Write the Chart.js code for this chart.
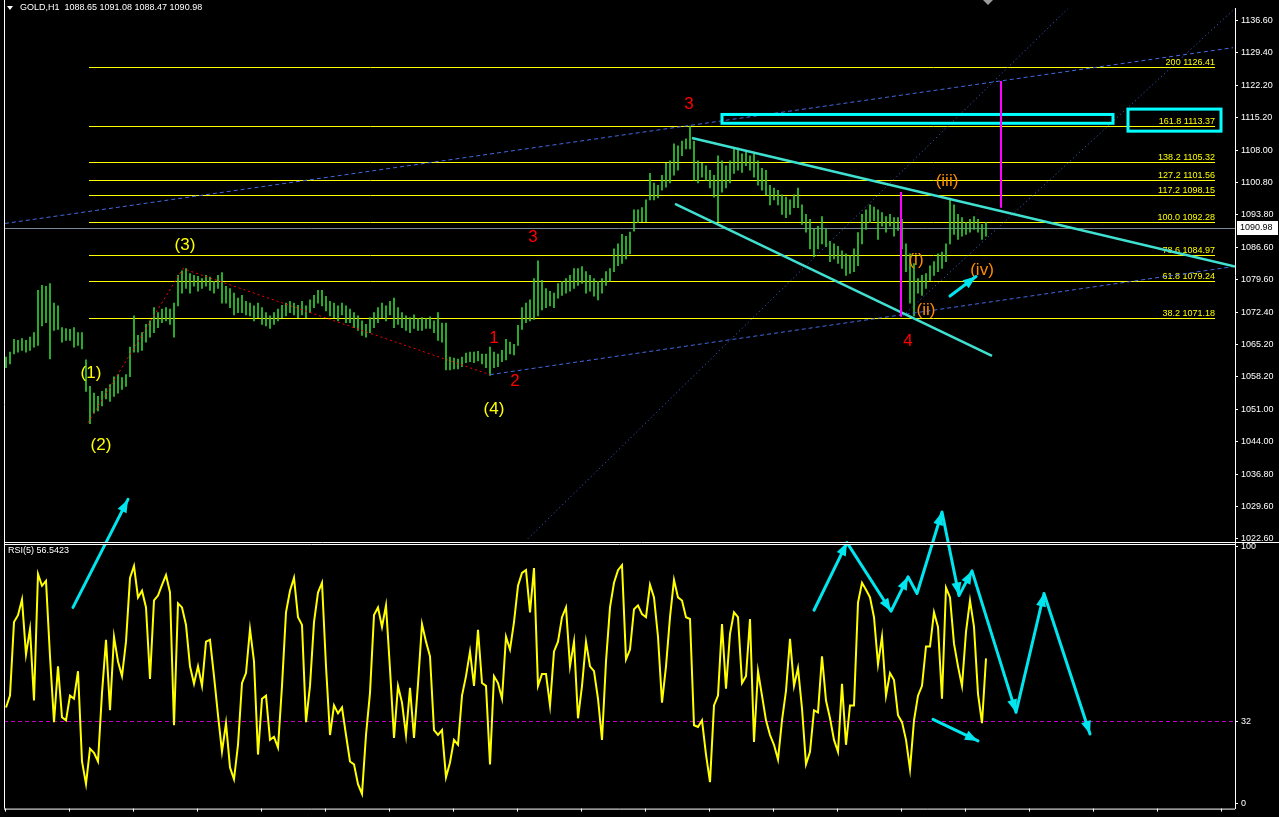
<!DOCTYPE html>
<html>
<head>
<meta charset="utf-8">
<script src="https://cdn.jsdelivr.net/npm/chart.js@4.4.0/dist/chart.umd.min.js"></script>
<style>
  html, body { margin: 0; padding: 0; background: #000; overflow: hidden; }
  #wrap { position: absolute; left: 0; top: 0; width: 1279px; height: 817px; }
</style>
</head>
<body>
<div id="wrap"><canvas id="c" width="1279" height="817"></canvas></div>
<script>
// ---- GOLD H1 price bars (high / low per bar) ----
const barHigh = [
  1062.5,1063.6,1066.4,1066.2,1066.6,1066.2,1066.9,1067.9,1077.2,1078.3,
  1078.1,1078.7,1074.4,1073.8,1069.0,1068.8,1068.6,1069.0,1067.9,1067.9,
  1061.9,1056.1,1054.6,1053.9,1055.0,1055.6,1056.5,1058.2,1058.7,1058.0,
  1058.7,1064.7,1071.6,1067.3,1067.9,1069.7,1070.5,1073.4,1072.3,1073.1,
  1073.4,1073.1,1074.4,1080.5,1081.5,1082.0,1080.9,1080.5,1080.3,1079.8,
  1080.5,1080.1,1079.2,1080.5,1081.1,1078.1,1077.6,1076.6,1075.5,1076.1,
  1074.8,1074.4,1073.8,1074.4,1073.4,1072.3,1071.6,1072.3,1073.1,1073.9,
  1074.4,1074.8,1074.4,1073.9,1074.8,1073.8,1075.1,1076.1,1077.2,1077.2,
  1075.9,1074.8,1074.4,1073.8,1074.4,1073.8,1073.1,1072.3,1071.6,1070.5,
  1069.7,1071.2,1072.3,1073.4,1074.4,1073.8,1074.8,1075.5,1073.4,1072.3,
  1071.6,1071.2,1071.8,1071.0,1071.2,1071.0,1071.4,1070.5,1072.3,1070.0,
  1070.0,1062.5,1062.3,1062.1,1062.5,1063.4,1063.6,1063.6,1063.8,1063.2,
  1063.2,1064.7,1063.6,1063.2,1064.0,1066.4,1065.8,1065.3,1069.5,1073.4,
  1074.4,1075.1,1079.8,1083.7,1079.4,1077.6,1077.0,1076.6,1078.7,1079.2,
  1079.8,1080.5,1082.0,1082.0,1082.4,1081.3,1080.5,1079.8,1079.2,1079.8,
  1081.3,1082.0,1086.3,1087.4,1089.5,1089.1,1090.0,1094.9,1094.9,1095.4,
  1097.1,1102.9,1100.8,1100.3,1102.5,1105.1,1105.7,1109.4,1109.0,1110.0,
  1110.5,1113.3,1110.0,1105.7,1105.1,1104.6,1103.6,1102.5,1106.8,1105.7,
  1104.6,1105.7,1108.3,1108.5,1107.2,1107.9,1106.8,1107.2,1105.7,1104.0,
  1103.6,1100.3,1099.7,1099.2,1098.2,1097.7,1097.1,1098.2,1099.7,1096.0,
  1093.9,1092.8,1090.6,1091.3,1093.4,1090.6,1088.0,1087.4,1086.9,1085.9,
  1085.2,1084.8,1086.3,1089.9,1093.9,1094.9,1096.0,1095.5,1094.9,1094.3,
  1093.4,1093.9,1093.2,1093.2,1092.8,1087.4,1085.2,1083.1,1079.8,1080.5,
  1080.9,1082.6,1083.5,1085.2,1085.6,1087.4,1097.5,1096.0,1093.9,1093.2,
  1092.1,1092.8,1093.4,1092.8,1091.7,1092.1
];
const barLow = [
  1060.2,1061.0,1063.2,1063.6,1064.0,1063.6,1064.0,1064.7,1065.1,1069.4,
  1070.1,1062.1,1068.4,1068.6,1065.8,1066.2,1066.2,1064.7,1065.1,1064.3,
  1055.0,1047.9,1050.2,1050.7,1051.8,1053.3,1052.8,1053.9,1054.6,1055.4,
  1056.1,1058.2,1063.6,1063.6,1064.0,1065.8,1066.9,1067.9,1069.0,1070.1,
  1070.5,1069.7,1066.9,1073.8,1076.6,1077.6,1076.6,1078.1,1077.0,1077.6,
  1078.1,1077.2,1076.6,1077.6,1074.4,1074.4,1073.4,1071.8,1072.3,1072.3,
  1071.8,1071.6,1070.5,1071.2,1069.7,1069.4,1068.8,1069.7,1070.5,1071.2,
  1071.6,1072.3,1071.8,1071.2,1071.8,1071.2,1072.3,1073.4,1074.4,1073.8,
  1072.7,1071.6,1071.2,1070.5,1071.8,1070.1,1070.1,1069.0,1068.4,1067.3,
  1066.9,1067.9,1069.0,1070.1,1071.2,1070.5,1071.8,1069.0,1069.7,1069.0,
  1068.4,1067.9,1068.8,1068.4,1068.4,1068.8,1068.8,1067.9,1066.2,1065.8,
  1059.7,1059.7,1059.9,1059.9,1060.4,1061.3,1061.5,1061.3,1061.7,1061.0,
  1060.2,1058.5,1060.2,1060.4,1061.5,1061.9,1063.2,1063.0,1065.1,1068.6,
  1070.1,1070.5,1070.8,1071.6,1072.9,1073.4,1073.8,1073.4,1075.5,1076.1,
  1076.6,1077.0,1077.6,1078.3,1078.7,1076.6,1077.0,1075.9,1075.1,1076.6,
  1078.3,1079.2,1081.3,1082.6,1083.1,1084.1,1085.2,1090.2,1092.1,1092.3,
  1092.3,1097.1,1097.1,1097.5,1099.2,1099.9,1100.8,1102.5,1103.6,1106.8,
  1108.3,1108.3,1101.4,1100.8,1102.1,1101.4,1099.7,1097.7,1092.3,1098.8,
  1099.7,1100.8,1102.9,1103.6,1103.1,1104.6,1103.6,1102.1,1100.3,1099.2,
  1098.2,1096.0,1097.1,1096.0,1093.9,1093.2,1093.9,1095.4,1095.4,1091.7,
  1090.0,1086.3,1084.6,1086.3,1087.4,1086.8,1083.5,1084.1,1083.1,1082.0,
  1080.5,1080.9,1081.3,1082.6,1087.4,1090.6,1092.1,1092.5,1088.4,1091.3,
  1090.0,1091.3,1089.1,1090.4,1086.3,1081.3,1074.4,1071.6,1076.6,1076.1,
  1077.6,1079.4,1080.5,1081.3,1082.0,1083.5,1087.4,1089.5,1088.4,1089.1,
  1089.5,1090.0,1090.6,1090.0,1088.4,1089.1
];
// ---- RSI(5), one value per bar ----
const rsiValues = [
  37.4,42.0,70.6,73.3,79.4,58.0,67.9,40.1,89.3,84.7,
  86.6,57.3,31.7,53.4,33.6,32.4,42.0,40.8,51.5,16.4,
  7.6,21.4,19.8,16.4,43.1,63.7,36.3,64.9,55.3,49.6,
  63.0,87.8,92.4,80.2,82.8,76.3,48.5,79.0,80.9,85.1,
  88.9,82.1,30.5,77.9,76.3,69.5,53.4,46.6,53.4,45.8,
  63.0,63.7,49.6,34.4,20.2,31.3,14.1,9.5,22.9,46.9,
  50.8,67.9,55.3,19.1,40.8,42.0,24.8,26.0,21.8,45.8,
  74.4,82.8,87.8,72.5,69.5,31.7,45.8,70.6,82.1,85.9,
  53.4,26.7,38.2,35.1,37.4,26.7,16.4,15.3,7.6,3.8,
  26.7,43.1,73.3,76.3,68.7,77.1,52.3,25.6,45.8,39.3,
  26.7,45.0,25.6,46.6,69.8,63.0,57.3,28.6,26.7,28.6,
  10.3,16.0,24.8,22.9,42.0,49.6,59.2,45.8,67.6,46.9,
  45.8,15.3,49.6,46.9,40.8,64.9,59.9,70.6,84.7,89.7,
  90.8,74.4,91.6,45.8,50.4,50.4,38.2,59.2,63.0,72.5,
  76.3,53.4,63.0,33.2,45.8,63.0,53.4,51.5,40.8,24.8,
  55.3,76.3,85.9,90.8,92.7,56.1,59.9,75.6,77.1,73.7,
  72.5,85.1,80.2,64.9,39.3,53.4,72.5,87.0,80.2,79.0,
  72.5,71.8,30.5,29.8,32.4,19.1,8.4,38.2,42.0,69.8,
  44.7,66.0,74.4,72.5,46.9,49.6,71.8,24.0,51.5,42.0,
  32.4,26.7,22.9,17.2,32.4,43.9,64.1,45.8,52.7,37.0,
  15.3,20.2,36.3,35.5,57.3,40.1,33.2,24.8,20.2,46.6,
  22.9,38.2,38.2,78.2,85.9,83.2,80.2,72.5,54.2,64.9,
  42.0,50.8,48.1,34.4,31.7,24.8,13.4,32.4,42.0,45.8,
  61.1,61.1,74.4,68.7,40.8,84.0,80.2,62.2,53.4,45.8,
  66.8,79.0,68.7,42.7,31.3,56.5
];

// ---- axis ticks ----
const PRICE_TICKS = [1022.60,1029.60,1036.80,1044.00,1051.00,1058.20,1065.20,1072.40,1079.60,
                     1086.60,1093.80,1100.80,1108.00,1115.20,1122.20,1129.40,1136.60];
const RSI_TICKS = [0, 32, 100];
const RSI_LEVEL = 32;
const LAST_PRICE = 1090.98;
const HEADER_TEXT = 'GOLD,H1  1088.65 1091.08 1088.47 1090.98';
const RSI_TITLE = 'RSI(5) 56.5423';

// ---- Fibonacci expansion levels ----
const FIB_LEVELS = ['200', '161.8', '138.2', '127.2', '117.2', '100.0', '78.6', '61.8', '38.2'];
const FIB_PRICES = [1126.41, 1113.37, 1105.32, 1101.56, 1098.15, 1092.28, 1084.97, 1079.24, 1071.18];
const FIB_SPAN = [20.75, 302.25];           // bar index range

// ---- drawn objects: [bar index, price] ----
const TREND_DASHED = [
  [[-0.25, 1091.91], [306.75, 1130.55]],
  [[121, 1058.66], [306.75, 1082.41]]
];
const TREND_DOTTED = [
  [[130.5, 1022.61], [265.5, 1139.19]],
  [[224.25, 1071.62], [307.25, 1139.19]]
];
const WAVE_PATH = [[20.5, 1048.09], [44.25, 1081.98], [121, 1058.66]];
const CHANNEL_LINES = [
  [[171.5, 1110.69], [307.25, 1082.41]],
  [[167.25, 1096.23], [246.5, 1062.77]]
];
const TARGET_BOXES = [
  [179, 1115.87, 276.75, 1113.93],
  [280.5, 1117.05, 303.75, 1112.20]
];
const MAGENTA_BARS = [
  [223.75, 1098.82, 1071.40],
  [248.75, 1123.21, 1095.37]
];
const PRICE_ARROWS = [[[236, 1075.94], [242.5, 1080.25]]];

// wave counts: [text, bar index, price]
const WAVES_PRIMARY = [['(1)', 21.25, 1058.88], ['(2)', 23.75, 1043.12], ['(3)', 44.75, 1087.16], ['(4)', 122, 1051.11]];
const WAVES_INTERMEDIATE = [['3', 170.75, 1118.03], ['3', 131.75, 1088.89], ['1', 122, 1066.65], ['2', 127.25, 1057.15], ['4', 225.5, 1066.01]];
const WAVES_MINOR = [['(iii)', 235.25, 1101.19], ['(i)', 227.5, 1083.71], ['(ii)', 230, 1072.91], ['(iv)', 244, 1081.55]];

// ---- RSI projection arrows: [bar index, RSI value] ----
const RSI_ZIGZAG_I   = [202, 210.25, 221.25, 225.5, 227.75, 234, 238.25, 241.5, 252.5, 259.5, 271];
const RSI_ZIGZAG_V   = [75.2, 101.5, 74.8, 88.2, 81.7, 113.4, 80.9, 90.5, 35.5, 81.7, 27.1];
const RSI_ZIGZAG_HEAD = [0, 1, 1, 1, 0, 1, 1, 1, 1, 1, 1];
const RSI_ARROWS = [
  [[16.75, 76.3], [30.5, 118.3]],
  [[231.75, 32.8], [243, 24.4]]
];

const FONT = '"Liberation Sans", Arial, sans-serif';

function arrowHead(ctx, x0, y0, x1, y1, len, half) {
  const a = Math.atan2(y1 - y0, x1 - x0);
  ctx.beginPath();
  ctx.moveTo(x1, y1);
  ctx.lineTo(x1 - len * Math.cos(a) + half * Math.sin(a), y1 - len * Math.sin(a) - half * Math.cos(a));
  ctx.lineTo(x1 - len * Math.cos(a) - half * Math.sin(a), y1 - len * Math.sin(a) + half * Math.cos(a));
  ctx.closePath();
  ctx.fill();
}

const overlay = {
  id: 'overlay',
  beforeDatasetsDraw(chart) {
    const { ctx, chartArea: a, scales } = chart;
    const x = scales.x, y = scales.y, r = scales.rsi;
    ctx.save();
    ctx.beginPath();
    ctx.rect(a.left, a.top, a.right - a.left, a.bottom - a.top);
    ctx.clip();

    // last price line
    ctx.strokeStyle = '#778899';
    ctx.lineWidth = 1;
    let py = Math.round(y.getPixelForValue(LAST_PRICE)) + 0.5;
    ctx.beginPath(); ctx.moveTo(a.left, py); ctx.lineTo(a.right, py); ctx.stroke();

    // RSI level
    ctx.strokeStyle = '#c000c0';
    ctx.setLineDash([4, 3]);
    py = Math.round(r.getPixelForValue(RSI_LEVEL)) + 0.5;
    ctx.beginPath(); ctx.moveTo(a.left, py); ctx.lineTo(a.right, py); ctx.stroke();
    ctx.setLineDash([]);

    // fibonacci levels
    const fx0 = x.getPixelForValue(FIB_SPAN[0]), fx1 = x.getPixelForValue(FIB_SPAN[1]);
    ctx.strokeStyle = '#ffff00';
    ctx.fillStyle = '#ffff00';
    ctx.font = '9px ' + FONT;
    ctx.textAlign = 'right';
    ctx.textBaseline = 'bottom';
    FIB_PRICES.forEach((p, k) => {
      const ly = Math.round(y.getPixelForValue(p)) + 0.5;
      ctx.beginPath(); ctx.moveTo(fx0, ly); ctx.lineTo(fx1, ly); ctx.stroke();
      ctx.fillText(FIB_LEVELS[k] + ' ' + p.toFixed(2), fx1, ly);
    });
    ctx.restore();
  },
  afterDatasetsDraw(chart) {
    const { ctx, chartArea: a, scales } = chart;
    const x = scales.x, y = scales.y, r = scales.rsi;
    const P = (pt) => [x.getPixelForValue(pt[0]), y.getPixelForValue(pt[1])];
    const R = (i, v) => [x.getPixelForValue(i), r.getPixelForValue(v)];
    ctx.save();
    ctx.beginPath();
    ctx.rect(a.left, a.top, a.right - a.left, a.bottom - a.top);
    ctx.clip();

    // trend lines
    ctx.strokeStyle = '#4169e1';
    ctx.lineWidth = 1;
    ctx.setLineDash([4, 3]);
    TREND_DASHED.forEach(([s, e]) => {
      const p0 = P(s), p1 = P(e);
      ctx.beginPath(); ctx.moveTo(p0[0], p0[1]); ctx.lineTo(p1[0], p1[1]); ctx.stroke();
    });
    ctx.setLineDash([1, 3]);
    TREND_DOTTED.forEach(([s, e]) => {
      const p0 = P(s), p1 = P(e);
      ctx.beginPath(); ctx.moveTo(p0[0], p0[1]); ctx.lineTo(p1[0], p1[1]); ctx.stroke();
    });

    // wave path
    ctx.strokeStyle = '#ff0000';
    ctx.setLineDash([2, 3]);
    ctx.beginPath();
    WAVE_PATH.forEach((pt, k) => { const p = P(pt); k ? ctx.lineTo(p[0], p[1]) : ctx.moveTo(p[0], p[1]); });
    ctx.stroke();
    ctx.setLineDash([]);

    // channel
    ctx.strokeStyle = '#40e0d0';
    ctx.lineWidth = 2.5;
    CHANNEL_LINES.forEach(([s, e]) => {
      const p0 = P(s), p1 = P(e);
      ctx.beginPath(); ctx.moveTo(p0[0], p0[1]); ctx.lineTo(p1[0], p1[1]); ctx.stroke();
    });

    // target boxes
    ctx.strokeStyle = '#00ffff';
    ctx.lineWidth = 3;
    TARGET_BOXES.forEach(([i0, p0, i1, p1]) => {
      const xa = x.getPixelForValue(i0), xb = x.getPixelForValue(i1);
      const ya = y.getPixelForValue(p0), yb = y.getPixelForValue(p1);
      ctx.strokeRect(xa, ya, xb - xa, yb - ya);
    });

    // magenta projections
    ctx.strokeStyle = '#ff00ff';
    ctx.lineWidth = 2;
    MAGENTA_BARS.forEach(([i, p0, p1]) => {
      const xx = Math.round(x.getPixelForValue(i));
      ctx.beginPath(); ctx.moveTo(xx, y.getPixelForValue(p0)); ctx.lineTo(xx, y.getPixelForValue(p1)); ctx.stroke();
    });

    // wave labels
    ctx.textAlign = 'center';
    ctx.textBaseline = 'middle';
    ctx.font = '17px ' + FONT;
    const label = (list, color) => {
      ctx.fillStyle = color;
      list.forEach(([t, i, p]) => ctx.fillText(t, x.getPixelForValue(i), y.getPixelForValue(p)));
    };
    label(WAVES_PRIMARY, '#ffff00');
    label(WAVES_INTERMEDIATE, '#ff0000');
    label(WAVES_MINOR, '#ff8c00');

    // arrows
    ctx.strokeStyle = '#00e5ee';
    ctx.fillStyle = '#00e5ee';
    ctx.lineWidth = 3;
    ctx.lineCap = 'round';
    ctx.lineJoin = 'round';
    const drawArrow = (p0, p1) => {
      ctx.beginPath(); ctx.moveTo(p0[0], p0[1]); ctx.lineTo(p1[0], p1[1]); ctx.stroke();
      arrowHead(ctx, p0[0], p0[1], p1[0], p1[1], 13, 5);
    };
    PRICE_ARROWS.forEach(([s, e]) => drawArrow(P(s), P(e)));
    RSI_ARROWS.forEach(([s, e]) => drawArrow(R(s[0], s[1]), R(e[0], e[1])));
    ctx.beginPath();
    RSI_ZIGZAG_I.forEach((i, k) => {
      const p = R(i, RSI_ZIGZAG_V[k]);
      k ? ctx.lineTo(p[0], p[1]) : ctx.moveTo(p[0], p[1]);
    });
    ctx.stroke();
    for (let k = 1; k < RSI_ZIGZAG_I.length; k++) {
      if (!RSI_ZIGZAG_HEAD[k]) continue;
      const p0 = R(RSI_ZIGZAG_I[k - 1], RSI_ZIGZAG_V[k - 1]);
      const p1 = R(RSI_ZIGZAG_I[k], RSI_ZIGZAG_V[k]);
      arrowHead(ctx, p0[0], p0[1], p1[0], p1[1], 13, 5);
    }
    ctx.restore();
  },
  afterDraw(chart) {
    const { ctx, chartArea: a, scales } = chart;
    const x = scales.x, y = scales.y, r = scales.rsi;
    ctx.save();
    ctx.strokeStyle = '#ffffff';
    ctx.lineWidth = 1;
    const sep = Math.round(y.bottom);
    ctx.beginPath();
    ctx.moveTo(a.left + 0.5, 0); ctx.lineTo(a.left + 0.5, a.bottom);
    ctx.moveTo(a.left, sep - 0.5); ctx.lineTo(1279, sep - 0.5);
    ctx.moveTo(a.left, sep + 1.5); ctx.lineTo(a.right, sep + 1.5);
    ctx.moveTo(a.left, a.bottom + 0.5); ctx.lineTo(a.right, a.bottom + 0.5);
    ctx.stroke();
    // separator gap
    ctx.fillStyle = '#000';
    ctx.fillRect(a.left + 1, sep, a.right - a.left - 1, 1);

    // time ticks along the bottom
    ctx.beginPath();
    for (let i = -0.25; i < x.max; i += 16) {
      const px = Math.round(x.getPixelForValue(i)) + 0.5;
      ctx.moveTo(px, a.bottom); ctx.lineTo(px, a.bottom + 3);
    }
    ctx.stroke();

    // header
    ctx.fillStyle = '#ffffff';
    ctx.beginPath(); ctx.moveTo(7, 6); ctx.lineTo(13, 6); ctx.lineTo(10, 10); ctx.closePath(); ctx.fill();
    ctx.font = '9px ' + FONT;
    ctx.textAlign = 'left';
    ctx.textBaseline = 'middle';
    ctx.fillText(HEADER_TEXT, 20, 8);
    ctx.fillText(RSI_TITLE, 8, r.getPixelForValue(98.5));

    // chart shift marker
    ctx.fillStyle = '#9a9a9a';
    const mx = x.getPixelForValue(245.5);
    ctx.beginPath(); ctx.moveTo(mx - 5, 0); ctx.lineTo(mx + 5, 0); ctx.lineTo(mx, 5); ctx.closePath(); ctx.fill();

    // last price tag
    const ly = Math.round(y.getPixelForValue(LAST_PRICE));
    ctx.fillStyle = '#ffffff';
    ctx.fillRect(a.right + 2, ly - 7, 41, 14);
    ctx.fillStyle = '#000000';
    ctx.fillText(LAST_PRICE.toFixed(2), a.right + 5, ly);
    ctx.restore();
  }
};

const priceBars = barHigh.map((h, i) => ({ x: i, y: [barLow[i], h] }));
const rsiPoints = rsiValues.map((v, i) => ({ x: i, y: v }));

new Chart(document.getElementById('c'), {
  type: 'bar',
  data: {
    datasets: [
      {
        type: 'bar',
        data: priceBars,
        xAxisID: 'x',
        yAxisID: 'y',
        backgroundColor: '#32cd32',
        borderWidth: 0,
        barThickness: 1,
        grouped: false
      },
      {
        type: 'line',
        data: rsiPoints,
        xAxisID: 'x',
        yAxisID: 'rsi',
        borderColor: '#ffff00',
        borderWidth: 2,
        pointRadius: 0,
        tension: 0,
        fill: false
      }
    ]
  },
  options: {
    responsive: false,
    devicePixelRatio: 1,
    animation: false,
    events: [],
    layout: { padding: { left: 4, top: 0, right: 0, bottom: 2 } },
    plugins: { legend: { display: false }, tooltip: { enabled: false } },
    scales: {
      x: { type: 'linear', display: false, offset: false, min: -0.5, max: 307.25 },
      y: {
        type: 'linear',
        position: 'right',
        stack: 'panes',
        stackWeight: 544,
        min: 1021.75,
        max: 1139.19,
        afterBuildTicks: (s) => { s.ticks = PRICE_TICKS.map(v => ({ value: v })); },
        afterFit: (s) => { s.width = 44; },
        ticks: { color: '#ffffff', font: { family: FONT, size: 9 }, padding: 3, callback: (v) => Number(v).toFixed(2) },
        grid: { drawOnChartArea: false, color: '#ffffff', tickLength: 3 },
        border: { color: '#ffffff' }
      },
      rsi: {
        type: 'linear',
        position: 'right',
        stack: 'panes',
        stackWeight: 271,
        min: -1.91,
        max: 101.53,
        afterBuildTicks: (s) => { s.ticks = RSI_TICKS.map(v => ({ value: v })); },
        afterFit: (s) => { s.width = 44; },
        ticks: { color: '#ffffff', font: { family: FONT, size: 9 }, padding: 3, callback: (v) => String(v) },
        grid: { drawOnChartArea: false, color: '#ffffff', tickLength: 3 },
        border: { color: '#ffffff' }
      }
    }
  },
  plugins: [overlay]
});
</script>
</body>
</html>
